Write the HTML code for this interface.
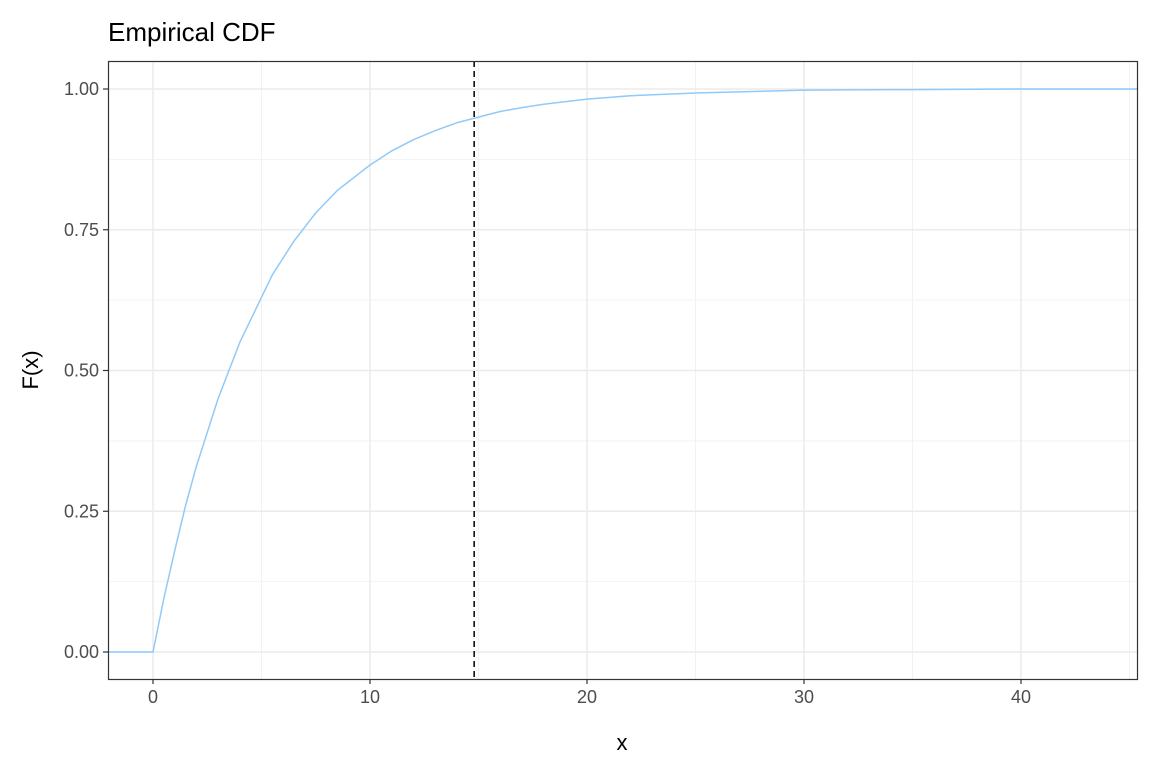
<!DOCTYPE html>
<html><head><meta charset="utf-8"><style>
body{margin:0;background:#fff;font-family:"Liberation Sans",sans-serif}
</style></head><body>
<svg id="chart" width="1152" height="768" xmlns="http://www.w3.org/2000/svg">
<rect width="1152" height="768" fill="#fff"/>
<text x="108" y="41" font-size="26" fill="#000">Empirical CDF</text>
<g id="grid"></g>
<g id="plot"></g>
<rect x="108.5" y="61.5" width="1029" height="618" fill="none" stroke="#333" stroke-width="1.2"/>
<g id="axes"></g>
<text x="622" y="750" font-size="22" text-anchor="middle">x</text>
<text transform="translate(38,370) rotate(-90)" font-size="22" text-anchor="middle">F(x)</text>
</svg>
<script>
const xVals=[-2.1,0,0.5,1,1.5,2,2.5,3,3.5,4,4.5,5,5.5,6,6.5,7,7.5,8,8.5,9,9.5,10,11,12,13,14,15,16,17,18,20,22,25,30,35,40,45.4];
const fVals=[0,0,0.095,0.18,0.26,0.33,0.39,0.45,0.50,0.55,0.59,0.63,0.67,0.70,0.73,0.755,0.78,0.80,0.82,0.835,0.85,0.865,0.89,0.91,0.926,0.94,0.95,0.96,0.967,0.973,0.982,0.988,0.993,0.998,0.999,1.0,1.0];
const xTicks=[0,10,20,30,40];
const yTicks=[0,0.25,0.5,0.75,1];
const yTickLabels=["0.00","0.25","0.50","0.75","1.00"];
const xMinor=[5,15,25,35,45];
const yMinor=[0.125,0.375,0.625,0.875];
const vlineX=[14.8];
const X0=108,X1=1138,Y0=61,Y1=679;
const sx=v=>153+(v-0)*21.7;
const sy=v=>652-v*563;
const NS="http://www.w3.org/2000/svg";
function mk(tag,attrs,parent){const e=document.createElementNS(NS,tag);for(const k in attrs)e.setAttribute(k,attrs[k]);document.getElementById(parent).appendChild(e);return e;}
xMinor.forEach(v=>{if(sx(v)<X1){const l=mk('line',{x1:sx(v),x2:sx(v),y1:Y0,y2:Y1,stroke:'#f2f2f2','stroke-width':1},'grid');

}});
yMinor.forEach(v=>{const l=mk('line',{x1:X0,x2:X1,y1:sy(v),y2:sy(v),stroke:'#f2f2f2','stroke-width':1},'grid');

});
xTicks.forEach(v=>{const l=mk('line',{x1:sx(v),x2:sx(v),y1:Y0,y2:Y1,stroke:'#ebebeb','stroke-width':1.5},'grid');


const t=mk('line',{x1:sx(v),x2:sx(v),y1:Y1,y2:Y1+5,stroke:'#333','stroke-width':1.2},'axes');


const tx=mk('text',{x:sx(v),y:Y1+24,'font-size':18,'text-anchor':'middle',fill:'#4d4d4d'},'axes');tx.textContent=v;

});
yTicks.forEach((v,i)=>{const l=mk('line',{x1:X0,x2:X1,y1:sy(v),y2:sy(v),stroke:'#ebebeb','stroke-width':1.5},'grid');


const t=mk('line',{x1:X0-5,x2:X0,y1:sy(v),y2:sy(v),stroke:'#333','stroke-width':1.2},'axes');


const tx=mk('text',{x:X0-9,y:sy(v)+6,'font-size':18,'text-anchor':'end',fill:'#4d4d4d'},'axes');tx.textContent=yTickLabels[i];

});
const d=xVals.map((v,i)=>(i?'L':'M')+sx(v)+','+sy(fVals[i])).join(' ');
const p=mk('path',{d:d,fill:'none',stroke:'#90caf9','stroke-width':1.5,'stroke-linejoin':'round'},'plot');


vlineX.forEach(v=>{const l=mk('line',{x1:sx(v),x2:sx(v),y1:Y0,y2:Y1,stroke:'#000','stroke-width':1.5,'stroke-dasharray':'6,4'},'plot');

});
</script>
</body></html>
